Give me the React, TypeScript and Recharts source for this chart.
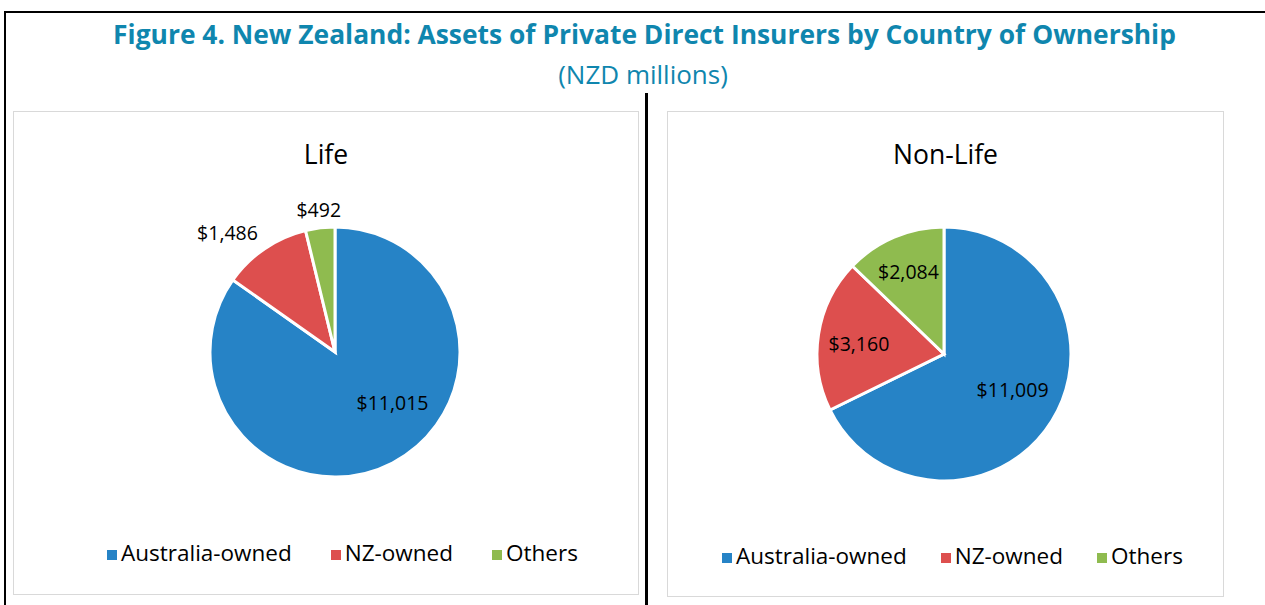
import React from "react";
import { PieChart, Pie, Cell, Legend } from "recharts";

const categories = ["Australia-owned", "NZ-owned", "Others"];
const lifeValues = [11015, 1486, 492];
const nonLifeValues = [11009, 3160, 2084];

const colors = ["#2683C6", "#DD4F4E", "#8FBB4F"];

// label offsets from centre, in units of the radius
const lifeLabelPos = [
  { dx: 0.46, dy: 0.4 },
  { dx: -0.86, dy: -0.96 },
  { dx: -0.13, dy: -1.14 },
];
const nonLifeLabelPos = [
  { dx: 0.54, dy: 0.28 },
  { dx: -0.67, dy: -0.08 },
  { dx: -0.28, dy: -0.65 },
];

const font = "'Open Sans', 'Noto Sans', sans-serif";

const fmt = (v: number) => "$" + v.toLocaleString("en-US");

function makeLabel(pos: { dx: number; dy: number }[]) {
  return (props: any) => {
    const { cx, cy, outerRadius, index, value } = props;
    const p = pos[index];
    return (
      <text
        x={cx + p.dx * outerRadius}
        y={cy + p.dy * outerRadius}
        textAnchor="middle"
        dominantBaseline="central"
        fill="#000"
        fontSize={19.5}
        fontFamily={font}
      >
        {fmt(value)}
      </text>
    );
  };
}

function Panel({
  title,
  values,
  labelPos,
  left,
  width,
  height,
  cx,
  cy,
  r,
  legendTop,
  legendLeft,
  legendGap,
}: {
  title: string;
  values: number[];
  labelPos: { dx: number; dy: number }[];
  left: number;
  width: number;
  height: number;
  cx: number;
  cy: number;
  r: number;
  legendTop: number;
  legendLeft: number;
  legendGap: number;
}) {
  const data = categories.map((name, i) => ({ name, value: values[i] }));
  return (
    <div
      style={{
        position: "absolute",
        left,
        top: 111,
        width,
        height,
        border: "1px solid #D9D9D9",
        background: "#fff",
      }}
    >
      <div
        style={{
          position: "absolute",
          top: 24,
          width: "100%",
          textAlign: "center",
          fontFamily: font,
          fontSize: 26.5,
          color: "#000",
        }}
      >
        {title}
      </div>
      <PieChart width={width} height={height}>
        <Pie
          data={data}
          dataKey="value"
          nameKey="name"
          cx={cx}
          cy={cy}
          outerRadius={r}
          startAngle={90}
          endAngle={-270}
          stroke="#fff"
          strokeWidth={3}
          labelLine={false}
          label={makeLabel(labelPos)}
          isAnimationActive={false}
        >
          {data.map((d, i) => (
            <Cell key={d.name} fill={colors[i]} />
          ))}
        </Pie>
        <Legend
          iconType="square"
          iconSize={10}
          align="left"
          wrapperStyle={{
            top: legendTop,
            left: legendLeft,
            width: 560,
            whiteSpace: "nowrap",
            fontFamily: font,
            fontSize: 22.5,
          }}
          formatter={(v: string) => (
            <span style={{ color: "#000", marginRight: legendGap }}>{v}</span>
          )}
        />
      </PieChart>
    </div>
  );
}

export default function App() {
  return (
    <div
      style={{
        position: "absolute",
        left: 0,
        top: 0,
        width: 1265,
        height: 605,
        background: "#fff",
        overflow: "hidden",
      }}
    >
      <div
        style={{
          position: "absolute",
          left: 4,
          top: 11,
          width: 1300,
          height: 700,
          borderTop: "2px solid #000",
          borderLeft: "2px solid #000",
        }}
      />
      <div
        style={{
          position: "absolute",
          left: 645,
          top: 93,
          width: 3,
          height: 520,
          background: "#000",
        }}
      />
      <div
        style={{
          position: "absolute",
          top: 16,
          left: 0,
          width: 1289,
          textAlign: "center",
          fontFamily: font,
          fontWeight: 700,
          fontSize: 26.4,
          color: "#0F86AE",
        }}
      >
        Figure 4. New Zealand: Assets of Private Direct Insurers by Country of Ownership
      </div>
      <div
        style={{
          position: "absolute",
          top: 56,
          left: 0,
          width: 1286,
          textAlign: "center",
          fontFamily: font,
          fontSize: 26,
          color: "#0F86AE",
        }}
      >
        (NZD millions)
      </div>
      <Panel
        title="Life"
        values={lifeValues}
        labelPos={lifeLabelPos}
        left={13}
        width={624}
        height={482}
        cx={316}
        cy={235}
        r={125}
        legendTop={425}
        legendLeft={93}
        legendGap={29}
      />
      <Panel
        title="Non-Life"
        values={nonLifeValues}
        labelPos={nonLifeLabelPos}
        left={667}
        width={555}
        height={484}
        cx={271}
        cy={237}
        r={127}
        legendTop={428}
        legendLeft={54}
        legendGap={24}
      />
    </div>
  );
}
